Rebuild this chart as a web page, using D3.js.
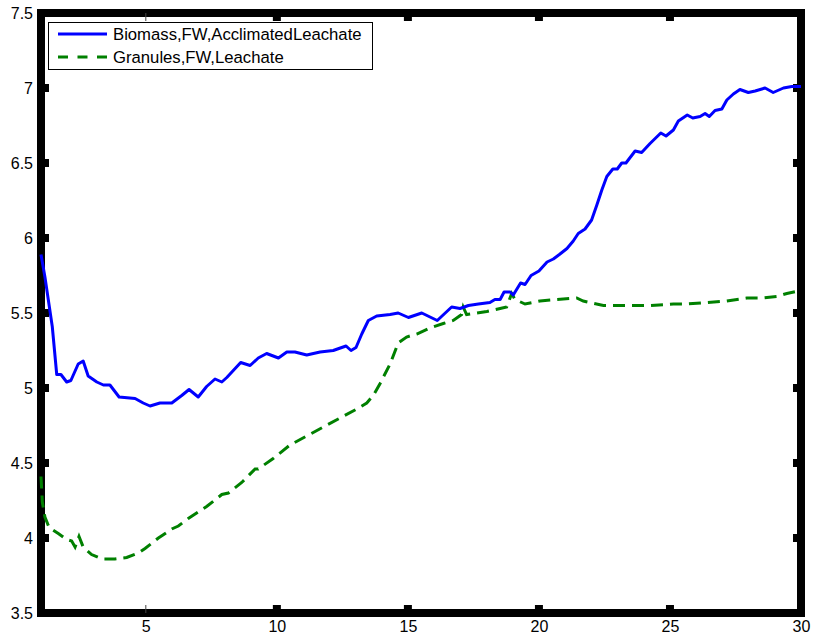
<!DOCTYPE html>
<html>
<head>
<meta charset="utf-8">
<script src="https://cdn.jsdelivr.net/npm/d3@7"></script>
<style>
  html, body { margin: 0; padding: 0; background: #fff; }
  svg { display: block; }
  text { font-family: "Liberation Sans", Arial, Helvetica, sans-serif; }
</style>
</head>
<body>
<svg id="chart" width="814" height="641"></svg>
<script>
// ---- data ----
const seriesNames = ["Biomass,FW,AcclimatedLeachate", "Granules,FW,Leachate"];

const biomassX = [1.00,1.15,1.43,1.60,1.76,1.98,2.14,2.42,2.61,2.80,3.13,3.38,3.63,3.98,4.59,4.90,5.16,5.54,5.99,6.37,6.65,7.00,7.32,7.64,7.90,8.09,8.62,8.98,9.29,9.61,10.06,10.38,10.69,11.14,11.65,12.15,12.64,12.83,13.02,13.24,13.49,13.81,14.32,14.63,15.02,15.53,16.12,16.67,16.99,17.31,17.69,18.13,18.32,18.52,18.67,18.90,19.02,19.30,19.47,19.70,20.00,20.31,20.55,20.78,21.07,21.31,21.50,21.76,22.01,22.21,22.40,22.59,22.82,22.99,23.16,23.32,23.67,23.92,24.24,24.65,24.85,25.13,25.32,25.66,25.87,26.15,26.34,26.50,26.72,26.98,27.17,27.42,27.67,27.99,28.25,28.63,28.94,29.33,29.65,30.00];
const biomassY = [5.89,5.74,5.41,5.09,5.09,5.04,5.05,5.16,5.18,5.08,5.04,5.02,5.02,4.94,4.93,4.90,4.88,4.90,4.90,4.95,4.99,4.94,5.01,5.06,5.04,5.07,5.17,5.15,5.20,5.23,5.20,5.24,5.24,5.22,5.24,5.25,5.28,5.25,5.27,5.36,5.45,5.48,5.49,5.50,5.47,5.50,5.45,5.54,5.53,5.55,5.56,5.57,5.59,5.59,5.64,5.64,5.62,5.70,5.69,5.75,5.78,5.84,5.86,5.89,5.93,5.98,6.03,6.06,6.12,6.22,6.32,6.41,6.46,6.46,6.50,6.50,6.58,6.57,6.63,6.70,6.68,6.72,6.78,6.82,6.80,6.81,6.83,6.81,6.85,6.86,6.92,6.96,6.99,6.97,6.98,7.00,6.97,7.00,7.01,7.01];

const granulesX = [1.00,1.05,1.15,1.31,1.66,1.98,2.17,2.30,2.45,2.61,2.93,3.32,3.82,4.27,4.71,4.97,5.48,5.99,6.24,6.62,7.32,7.90,8.15,8.66,9.17,9.29,9.86,10.50,11.14,11.77,12.41,13.05,13.43,13.68,13.94,14.32,14.63,14.95,15.34,15.84,16.35,16.73,17.05,17.11,17.24,18.01,18.52,18.77,18.96,19.09,19.47,20.04,20.68,21.44,21.69,22.46,23.35,24.24,25.13,25.64,26.40,27.17,27.93,28.56,29.07,29.46,30.00];
const granulesY = [4.41,4.24,4.14,4.07,4.03,3.99,3.98,3.94,4.01,3.94,3.89,3.86,3.86,3.87,3.90,3.93,4.00,4.06,4.08,4.13,4.21,4.29,4.30,4.37,4.46,4.46,4.53,4.62,4.68,4.74,4.80,4.86,4.90,4.95,5.03,5.16,5.30,5.34,5.36,5.40,5.43,5.45,5.49,5.54,5.49,5.51,5.53,5.54,5.63,5.59,5.56,5.58,5.59,5.60,5.58,5.55,5.55,5.55,5.56,5.56,5.57,5.58,5.60,5.60,5.61,5.63,5.65];

const xTicks = [5, 10, 15, 20, 25, 30];
const yTicks = [3.5, 4, 4.5, 5, 5.5, 6, 6.5, 7, 7.5];
const xDomain = [1, 30];
const yDomain = [3.5, 7.5];

// ---- drawing ----
const svg = d3.select("#chart");
const x = d3.scaleLinear().domain(xDomain).range([41, 801]);
const y = d3.scaleLinear().domain(yDomain).range([613, 13]);

svg.append("rect").attr("width", 814).attr("height", 641).attr("fill", "#fff");

// axis box (drawn beneath the data, like MATLAB's default layer)
svg.append("rect")
  .attr("x", x(xDomain[0])).attr("y", y(yDomain[1]))
  .attr("width", x(xDomain[1]) - x(xDomain[0]))
  .attr("height", y(yDomain[0]) - y(yDomain[1]))
  .attr("fill", "none").attr("stroke", "#000").attr("stroke-width", 8);

// inward tick stubs
const tickLen = 8;
const g = svg.append("g");
yTicks.forEach(t => {
  g.append("line").attr("x1", x(xDomain[0])).attr("x2", x(xDomain[0]) + tickLen)
    .attr("y1", y(t)).attr("y2", y(t)).attr("stroke", "#000").attr("stroke-width", 8);
  g.append("line").attr("x1", x(xDomain[1])).attr("x2", x(xDomain[1]) - tickLen)
    .attr("y1", y(t)).attr("y2", y(t)).attr("stroke", "#000").attr("stroke-width", 8);
});
xTicks.forEach(t => {
  const w = t === 5 ? 1 : 8;
  const c = t === 5 ? "#444" : "#000";
  g.append("line").attr("x1", x(t)).attr("x2", x(t))
    .attr("y1", y(yDomain[0])).attr("y2", y(yDomain[0]) - tickLen)
    .attr("stroke", c).attr("stroke-width", w);
  g.append("line").attr("x1", x(t)).attr("x2", x(t))
    .attr("y1", y(yDomain[1])).attr("y2", y(yDomain[1]) + tickLen)
    .attr("stroke", c).attr("stroke-width", w);
});

// tick labels via d3 axes
const yAxis = d3.axisLeft(y).tickValues(yTicks).tickSize(0).tickPadding(8).tickFormat(d3.format("~g"));
const xAxis = d3.axisBottom(x).tickValues(xTicks).tickSize(0).tickPadding(8).tickFormat(d3.format("~g"));
const ya = svg.append("g").attr("transform", `translate(${x(xDomain[0])},0)`).call(yAxis);
const xa = svg.append("g").attr("transform", `translate(0,${y(yDomain[0])})`).call(xAxis);
[ya, xa].forEach(a => {
  a.select(".domain").remove();
  a.selectAll("text").attr("font-size", 16).attr("fill", "#000")
    .style("font-family", "'Liberation Sans', Arial, sans-serif");
});

// data lines
const line = d3.line().x(d => x(d[0])).y(d => y(d[1]));
const biomass = biomassX.map((v, i) => [v, biomassY[i]]);
const granules = granulesX.map((v, i) => [v, granulesY[i]]);

svg.append("path").datum(granules)
  .attr("d", line).attr("fill", "none")
  .attr("stroke", "#008000").attr("stroke-width", 3)
  .attr("stroke-dasharray", "12,7");

svg.append("path").datum(biomass)
  .attr("d", line).attr("fill", "none")
  .attr("stroke", "#0000ff").attr("stroke-width", 3)
  .attr("stroke-linejoin", "round");

// legend
const lg = svg.append("g");
lg.append("rect").attr("x", 48.5).attr("y", 22.5).attr("width", 324).attr("height", 47)
  .attr("fill", "#fff").attr("stroke", "#000").attr("stroke-width", 1);
const legendItems = [
  { name: seriesNames[0], color: "#0000ff", dash: null, yy: 34 },
  { name: seriesNames[1], color: "#008000", dash: "10,9.5", yy: 57 }
];
legendItems.forEach(it => {
  const l = lg.append("line").attr("x1", 58).attr("x2", 107).attr("y1", it.yy).attr("y2", it.yy)
    .attr("stroke", it.color).attr("stroke-width", 3);
  if (it.dash) l.attr("stroke-dasharray", it.dash);
  lg.append("text").attr("x", 113).attr("y", it.yy + 6).attr("font-size", 16.7)
    .attr("fill", "#000").text(it.name);
});
</script>
</body>
</html>
